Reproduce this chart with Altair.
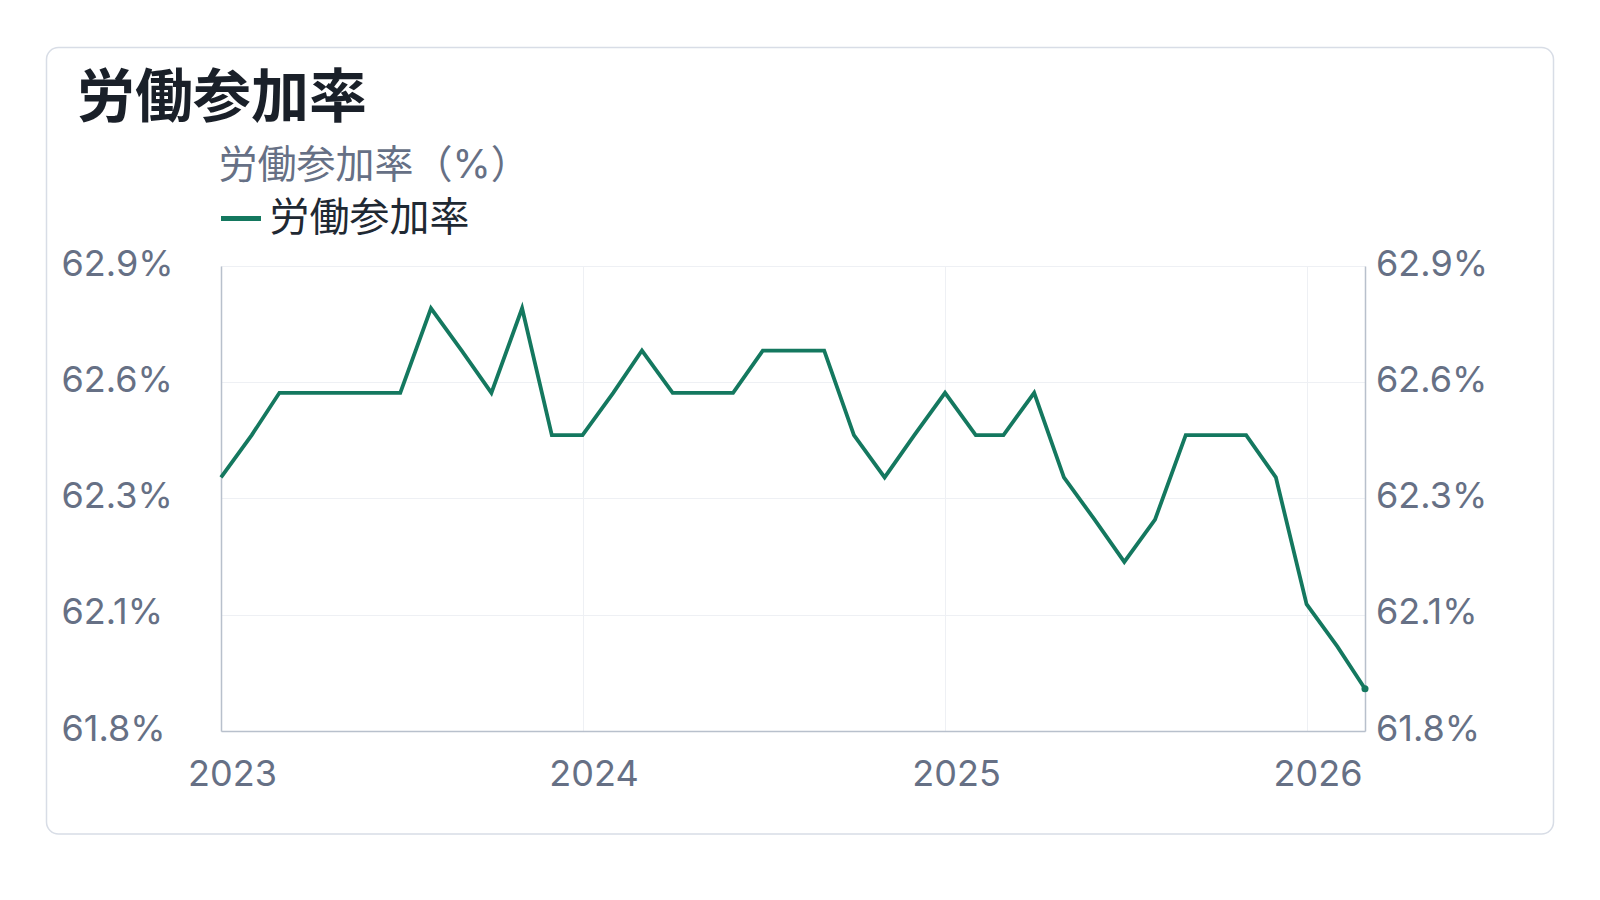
import altair as alt
import pandas as pd

# ---- data ----
months = [
    "2023-01", "2023-02", "2023-03", "2023-04", "2023-05", "2023-06",
    "2023-07", "2023-08", "2023-09", "2023-10", "2023-11", "2023-12",
    "2024-01", "2024-02", "2024-03", "2024-04", "2024-05", "2024-06",
    "2024-07", "2024-08", "2024-09", "2024-10", "2024-11", "2024-12",
    "2025-01", "2025-02", "2025-03", "2025-04", "2025-05", "2025-06",
    "2025-07", "2025-08", "2025-09", "2025-11", "2025-12",
    "2026-01", "2026-02", "2026-03",
]
values = [
    62.4, 62.5, 62.6, 62.6, 62.6, 62.6,
    62.6, 62.8, 62.7, 62.6, 62.8, 62.5,
    62.5, 62.6, 62.7, 62.6, 62.6, 62.6,
    62.7, 62.7, 62.7, 62.5, 62.4, 62.5,
    62.6, 62.5, 62.5, 62.6, 62.4, 62.3,
    62.2, 62.3, 62.5, 62.5, 62.4,
    62.1, 62.0, 61.9,
]
series_name = "労働参加率"
chart_title = "労働参加率"
legend_title = "労働参加率（%）"
y_domain = [61.8, 62.9]
y_tick_values = [61.8, 62.075, 62.35, 62.625, 62.9]
y_tick_labels = ["61.8%", "62.1%", "62.3%", "62.6%", "62.9%"]
x_tick_years = [2023, 2024, 2025, 2026]
x_domain_start = (2023, 1)
x_domain_end = (2026, 3)

# ---- styling ----
FONT = "Inter, Noto Sans CJK JP, sans-serif"
GREEN = "#14785f"
GRAY = "#667085"
DARK = "#1a2029"
LABEL_DARK = "#1f2933"
DOMAIN = "#b8c0cc"
GRID = "#eef0f4"
CARD = "#d8dde6"

df = pd.DataFrame({
    "date": [m + "-01T00:00:00" for m in months],
    "value": values,
    "series": [series_name] * len(values),
})
last = df.tail(1)

label_expr = "".join(
    f"abs(datum.value - {v}) < 1e-6 ? '{l}' : " for v, l in zip(y_tick_values, y_tick_labels)
) + "''"

x_scale = alt.Scale(domain=[
    alt.DateTime(year=x_domain_start[0], month=x_domain_start[1], date=1),
    alt.DateTime(year=x_domain_end[0], month=x_domain_end[1], date=1),
])
x_axis = alt.Axis(
    title=None,
    values=[alt.DateTime(year=y, month=1, date=1) for y in x_tick_years],
    format="%Y",
    labelFont=FONT, labelFontSize=36, labelColor=GRAY,
    labelPadding=26, labelOffset=11, labelFlush=False,
    ticks=False, tickSize=0,
    domainColor=DOMAIN, domainWidth=1.5,
    grid=True, gridColor=GRID, gridWidth=1,
)
y_scale = alt.Scale(domain=y_domain, zero=False, nice=False)

def y_axis(orient, pad, grid):
    return alt.Axis(
        title=None, orient=orient,
        values=y_tick_values, labelExpr=label_expr,
        labelFont=FONT, labelFontSize=36, labelColor=GRAY,
        labelAlign="left", labelOffset=-2,
        labelPadding=pad, ticks=False, tickSize=0,
        domainColor=DOMAIN, domainWidth=1.5,
        grid=grid, gridColor=GRID, gridWidth=1,
    )

card = alt.Chart(alt.Data(values=[{}])).mark_rect(
    fill="transparent", stroke=CARD, strokeWidth=1.5, cornerRadius=12
).encode(
    x=alt.value(-174.5), x2=alt.value(1332.5),
    y=alt.value(-218.5), y2=alt.value(568),
)

line = alt.Chart(df).mark_line(strokeWidth=3.8).encode(
    x=alt.X("date:T", scale=x_scale, axis=x_axis),
    y=alt.Y("value:Q", scale=y_scale, axis=y_axis("left", 160, True)),
    color=alt.Color(
        "series:N",
        scale=alt.Scale(domain=[series_name], range=[GREEN]),
        legend=alt.Legend(
            title=legend_title, orient="none", legendX=-2.5, legendY=-119,
            direction="vertical", padding=0,
            titleFont=FONT, titleFontSize=39, titleFontWeight="normal",
            titleColor=GRAY, titlePadding=10, titleLimit=800,
            labelFont=FONT, labelFontSize=40, labelColor=LABEL_DARK,
            labelOffset=6, labelLimit=800,
            symbolType="stroke", symbolStrokeWidth=5, symbolSize=1600,
        ),
    ),
)

dot = alt.Chart(last).mark_point(filled=True, size=50, opacity=1, color=GREEN).encode(
    x=alt.X("date:T", scale=x_scale, axis=x_axis),
    y=alt.Y("value:Q", scale=y_scale, axis=y_axis("right", 10.5, False)),
)

chart = alt.layer(card, line, dot).resolve_scale(y="independent").properties(
    width=1144,
    height=465,
    autosize=alt.AutoSizeParams(type="none"),
    padding={"left": 213, "top": 258, "right": 200, "bottom": 110},
    title=alt.TitleParams(
        text=chart_title, anchor="start", frame="group", dx=-144, dy=98, offset=16,
        font=FONT, fontSize=58, fontWeight="bold", color=DARK,
    ),
).configure_view(stroke=None)

chart.save("out.html", embed_options={"renderer": "svg", "actions": False})
